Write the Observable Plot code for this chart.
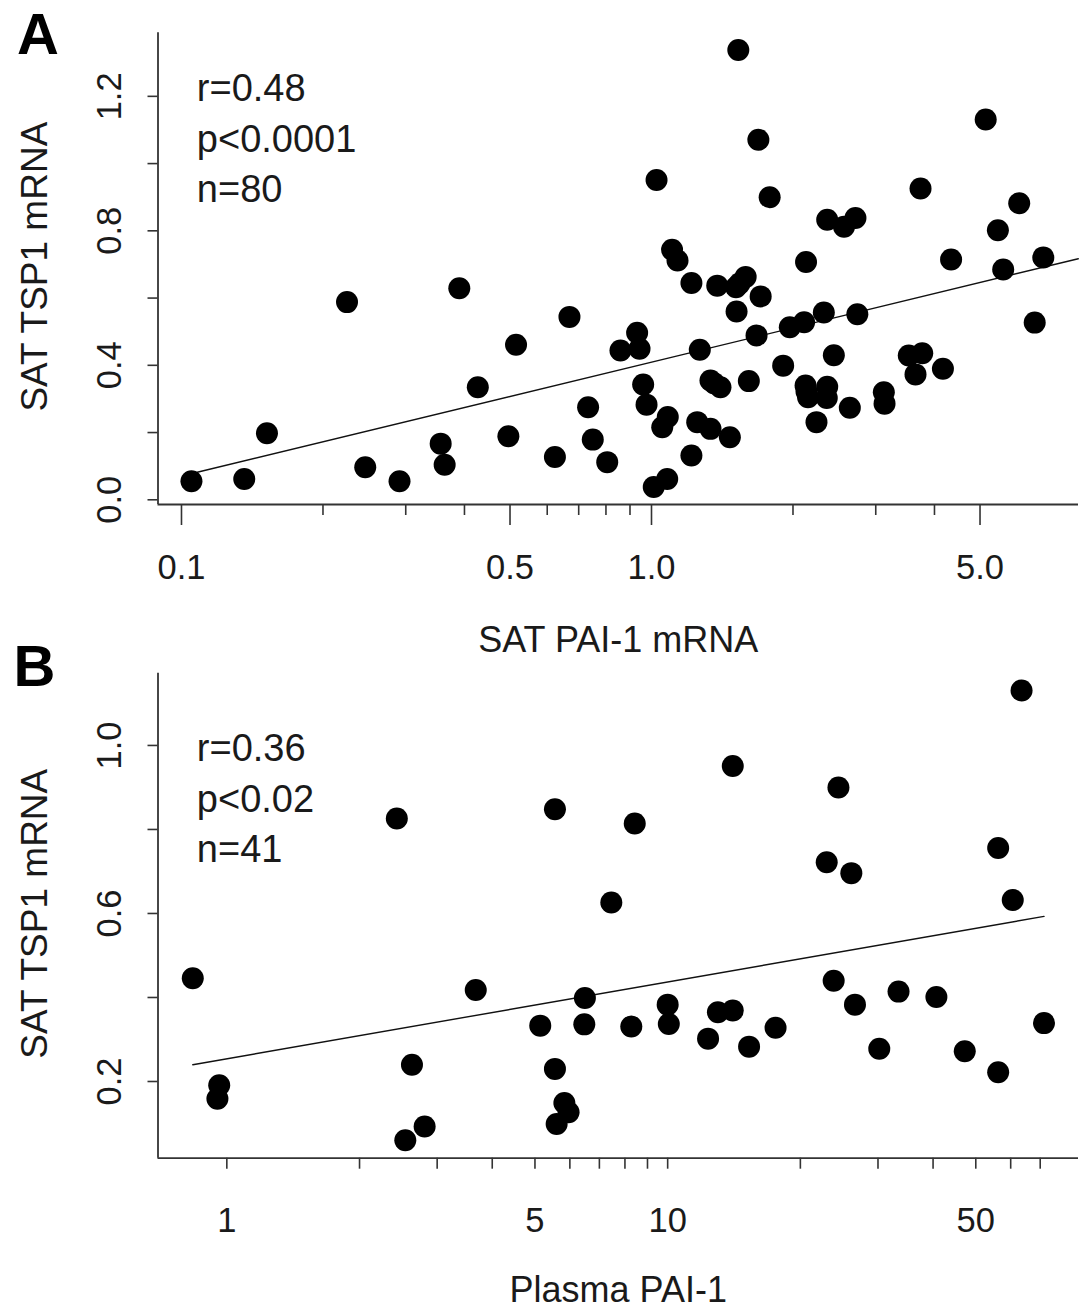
<!DOCTYPE html>
<html><head><meta charset="utf-8">
<script src="https://cdn.jsdelivr.net/npm/d3@7"></script>
<script src="https://cdn.jsdelivr.net/npm/@observablehq/plot@0.6"></script>
<style>
body{margin:0;background:#fff;}
#wrap{position:relative;width:1084px;height:1311px;overflow:hidden;background:#fff;}
#wrap svg{position:absolute;left:0;}
</style></head><body><div id="wrap"></div>
<script>
// ---------- Panel A data: SAT PAI-1 mRNA (x) vs SAT TSP1 mRNA (y) ----------
const aX = [0.105, 0.136, 0.152, 0.225, 0.246, 0.291, 0.356, 0.363, 0.390, 0.427, 0.496, 0.515, 0.623, 0.669, 0.733, 0.750, 0.805, 0.859, 0.932, 0.943, 0.960, 0.976, 1.025, 1.011, 1.080, 1.054, 1.083, 1.106, 1.136, 1.216, 1.216, 1.267, 1.251, 1.335, 1.335, 1.380, 1.402, 1.468, 1.513, 1.517, 1.530, 1.586, 1.611, 1.673, 1.688, 1.707, 1.784, 1.906, 1.969, 2.112, 2.132, 2.127, 2.153, 2.244, 2.326, 2.365, 2.365, 2.360, 2.443, 2.568, 2.642, 2.716, 2.741, 3.121, 3.132, 3.527, 3.645, 3.736, 3.767, 4.169, 4.339, 5.141, 5.457, 5.601, 6.058, 6.536, 6.817, 1.361, 2.137, 1.539];
const aY = [0.055, 0.062, 0.198, 0.588, 0.097, 0.055, 0.167, 0.104, 0.629, 0.335, 0.189, 0.461, 0.127, 0.544, 0.275, 0.179, 0.112, 0.444, 0.497, 0.449, 0.343, 0.283, 0.951, 0.038, 0.062, 0.216, 0.246, 0.744, 0.712, 0.645, 0.132, 0.446, 0.231, 0.355, 0.211, 0.637, 0.335, 0.186, 0.632, 0.560, 1.338, 0.663, 0.353, 0.489, 1.071, 0.605, 0.900, 0.399, 0.513, 0.528, 0.707, 0.340, 0.305, 0.231, 0.557, 0.833, 0.336, 0.303, 0.430, 0.812, 0.274, 0.838, 0.552, 0.320, 0.286, 0.429, 0.373, 0.926, 0.436, 0.390, 0.715, 1.131, 0.802, 0.685, 0.882, 0.527, 0.721, 0.346, 0.322, 0.643];
const aFitX = [0.108, 8.09];
const aFitY = [0.082, 0.717];
const aXMajor = [0.1, 0.5, 1, 5];
const aXMajorLabels = ["0.1", "0.5", "1.0", "5.0"];
const aXMinor = [0.2, 0.3, 0.4, 0.6, 0.7, 0.8, 0.9, 2, 3, 4];
const aYTicks = [0, 0.2, 0.4, 0.6, 0.8, 1.0, 1.2];
const aYLabels = [0, 0.4, 0.8, 1.2];
const aNotes = ["r=0.48", "p<0.0001", "n=80"];

// ---------- Panel B data: Plasma PAI-1 (x) vs SAT TSP1 mRNA (y) ----------
const bX = [63.5, 14.05, 24.4, 5.55, 2.43, 8.42, 56.2, 22.95, 26.1, 60.65, 7.45, 3.67, 23.8, 33.4, 0.837, 40.7, 26.6, 10.0, 13.0, 14.05, 6.49, 5.14, 6.47, 8.27, 10.06, 17.57, 71.4, 12.35, 15.3, 30.2, 47.2, 56.2, 2.63, 5.55, 0.961, 0.952, 5.83, 5.96, 5.60, 2.81, 2.54];
const bY = [1.131, 0.951, 0.900, 0.848, 0.826, 0.814, 0.756, 0.722, 0.696, 0.632, 0.626, 0.418, 0.440, 0.414, 0.446, 0.401, 0.383, 0.383, 0.365, 0.369, 0.399, 0.333, 0.336, 0.331, 0.337, 0.328, 0.339, 0.302, 0.283, 0.278, 0.272, 0.222, 0.240, 0.230, 0.191, 0.159, 0.149, 0.127, 0.099, 0.093, 0.060];
const bFitX = [0.837, 71.4];
const bFitY = [0.240, 0.593];
const bXMajor = [1, 5, 10, 50];
const bXMajorLabels = ["1", "5", "10", "50"];
const bXMinor = [2, 3, 4, 6, 7, 8, 9, 20, 30, 40, 60, 70];
const bYTicks = [0.2, 0.4, 0.6, 0.8, 1.0];
const bYLabels = [0.2, 0.6, 1.0];
const bNotes = ["r=0.36", "p<0.02", "n=41"];

const FONT = "'Liberation Sans', Arial, Helvetica, sans-serif";
const INK = "#1a1a1a";
const AXIS = "#333";

function panel(o) {
  const pts = o.xs.map((x, i) => ({x, y: o.ys[i]}));
  const fit = o.fitX.map((x, i) => ({x, y: o.fitY[i]}));
  const svg = Plot.plot({
    width: 1084,
    height: o.height,
    marginLeft: 157.5,
    marginRight: 6,
    marginTop: o.marginTop,
    marginBottom: o.marginBottom,
    style: {fontFamily: FONT, background: "transparent", overflow: "visible", color: INK},
    x: {type: "log", domain: o.xDomain, axis: null},
    y: {domain: o.yDomain, axis: null},
    marks: [
      Plot.ruleX([o.xDomain[0]], {stroke: AXIS, strokeWidth: 1.8}),
      Plot.ruleY([o.yDomain[0]], {stroke: AXIS, strokeWidth: 1.8}),
      Plot.axisY({ticks: o.yTicks, tickSize: 10, tickFormat: () => "", stroke: AXIS, strokeWidth: 1.6, label: null}),
      Plot.axisX({ticks: o.xMajor, tickSize: o.majorTick, tickFormat: () => "", stroke: AXIS, strokeWidth: 1.6, label: null}),
      Plot.axisX({ticks: o.xMinor, tickSize: 11, tickFormat: () => "", stroke: AXIS, strokeWidth: 1.6, label: null}),
      Plot.text(o.yLabels, {y: d => d, text: d => d.toFixed(1), frameAnchor: "left", dx: -37, rotate: -90,
        textAnchor: "middle", lineAnchor: "bottom", fontSize: 34.5, fill: INK}),
      Plot.text(o.xMajor, {x: d => d, text: (d, i) => o.xMajorLabels[i], frameAnchor: "bottom", dy: 74,
        lineAnchor: "bottom", fontSize: 34.5, fill: INK}),
      Plot.line(fit, {x: "x", y: "y", stroke: "#111", strokeWidth: 1.4}),
      Plot.dot(pts, {x: "x", y: "y", r: 11, fill: "#000", stroke: "none"}),
      Plot.text([o.notes.join("\n")], {text: d => d, frameAnchor: "top-left", dx: 38.8, dy: o.notesDy,
        textAnchor: "start", lineAnchor: "top", lineHeight: 1.33, fontSize: 38, fill: INK}),
      Plot.text([o.letter], {text: d => d, frameAnchor: "top-left", dx: o.letterDx, dy: o.letterDy,
        textAnchor: "start", lineAnchor: "bottom", fontSize: 58, fontWeight: "bold", fill: "#000"}),
      Plot.text([o.xTitle], {text: d => d, frameAnchor: "bottom", dy: o.xTitleDy, lineAnchor: "bottom",
        fontSize: 36, fill: INK}),
      Plot.text([o.yTitle], {text: d => d, frameAnchor: "left", dx: -111.5, dy: o.yTitleDy, rotate: -90,
        textAnchor: "middle", lineAnchor: "bottom", fontSize: 37, fill: INK})
    ]
  });
  svg.style.top = o.top + "px";
  return svg;
}

const wrap = document.getElementById("wrap");
wrap.appendChild(panel({
  xs: aX, ys: aY, fitX: aFitX, fitY: aFitY,
  xDomain: [0.08913, 8.10], yDomain: [-0.014, 1.389],
  xMajor: aXMajor, xMajorLabels: aXMajorLabels, xMinor: aXMinor,
  yTicks: aYTicks, yLabels: aYLabels, notes: aNotes, letter: "A",
  xTitle: "SAT PAI-1 mRNA", yTitle: "SAT TSP1 mRNA",
  height: 665, marginTop: 32.3, marginBottom: 161, top: 0, majorTick: 21,
  notesDy: 32.4, letterDx: -141, letterDy: 21, yTitleDy: -2, xTitleDy: 147.5
}));
wrap.appendChild(panel({
  xs: bX, ys: bY, fitX: bFitX, fitY: bFitY,
  xDomain: [0.698, 85.5], yDomain: [0.0174, 1.172],
  xMajor: bXMajor, xMajorLabels: bXMajorLabels, xMinor: bXMinor,
  yTicks: bYTicks, yLabels: bYLabels, notes: bNotes, letter: "B",
  xTitle: "Plasma PAI-1", yTitle: "SAT TSP1 mRNA",
  height: 671, marginTop: 32.7, marginBottom: 153.3, top: 640, majorTick: 11,
  notesDy: 52, letterDx: -144.5, letterDy: 12.8, yTitleDy: -2, xTitleDy: 144
}));
</script></body></html>
